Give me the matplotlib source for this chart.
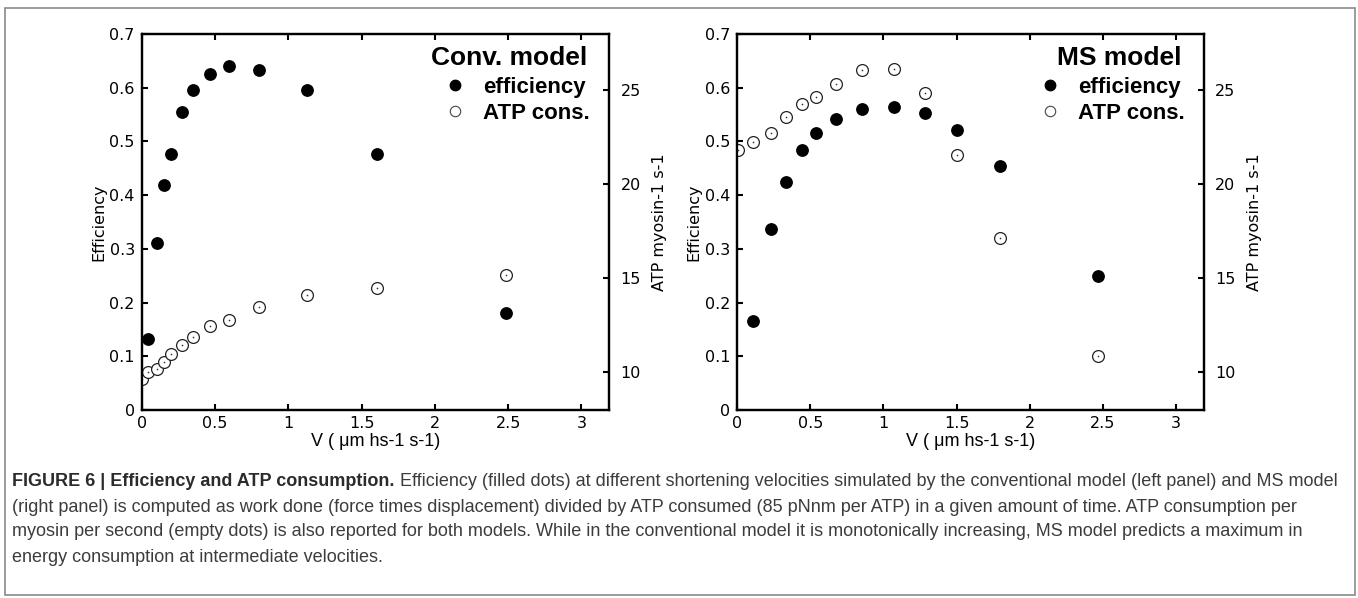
import numpy as np
import matplotlib
matplotlib.use("Agg")
import matplotlib.pyplot as plt
from matplotlib.lines import Line2D

# Shortening velocity (um hs-1 s-1), efficiency and ATP use per myosin per second
conv_velocity = [0.0, 0.045, 0.102, 0.153, 0.202, 0.273, 0.352, 0.466, 0.593, 0.802, 1.125, 1.607, 2.486]
conv_efficiency = [np.nan, 0.133, 0.310, 0.418, 0.476, 0.554, 0.595, 0.626, 0.640, 0.633, 0.595, 0.476, 0.180]
conv_atp = [9.67, 10.00, 10.18, 10.53, 10.98, 11.47, 11.88, 12.46, 12.81, 13.50, 14.14, 14.50, 15.20]

ms_velocity = [0.007, 0.108, 0.234, 0.335, 0.445, 0.543, 0.678, 0.857, 1.071, 1.284, 1.506, 1.798, 2.468]
ms_efficiency = [np.nan, 0.166, 0.337, 0.424, 0.484, 0.515, 0.541, 0.560, 0.565, 0.552, 0.522, 0.454, 0.250]
ms_atp = [21.83, 22.24, 22.73, 23.57, 24.27, 24.66, 25.32, 26.11, 26.15, 24.88, 21.55, 17.14, 10.89]

panel_titles = ["Conv. model", "MS model"]
legend_labels = ["efficiency", "ATP cons."]
x_ticks = [0, 0.5, 1, 1.5, 2, 2.5, 3]
eff_ticks = [0, 0.1, 0.2, 0.3, 0.4, 0.5, 0.6, 0.7]
atp_ticks = [10, 15, 20, 25]

caption_bold = "FIGURE 6 | Efficiency and ATP consumption."
caption_lines = [
    " Efficiency (filled dots) at different shortening velocities simulated by the conventional model (left panel) and MS model",
    "(right panel) is computed as work done (force times displacement) divided by ATP consumed (85 pNnm per ATP) in a given amount of time. ATP consumption per",
    "myosin per second (empty dots) is also reported for both models. While in the conventional model it is monotonically increasing, MS model predicts a maximum in",
    "energy consumption at intermediate velocities.",
]

W, H = 1358, 598
fig = plt.figure(figsize=(W / 100, H / 100), dpi=100)

TICK_FONT = ["DejaVu Sans"]
TEXT_FONT = ["Liberation Sans", "DejaVu Sans"]


def px_rect(x0, x1, y_top, y_bot):
    return [x0 / W, 1 - y_bot / H, (x1 - x0) / W, (y_bot - y_top) / H]


def draw_panel(rect, vel, eff, atp, title):
    ax = fig.add_axes(rect)
    ax2 = ax.twinx()
    ax.set_xlim(0, 3.19)
    ax.set_ylim(0, 0.7)
    ax2.set_ylim(8, 28)

    ax2.plot(vel, atp, linestyle="none", marker="o", markersize=8.5,
             markerfacecolor="white", markeredgecolor="#222222", markeredgewidth=0.9, zorder=3)
    ax2.plot(vel, atp, linestyle="none", marker="o", markersize=1.2,
             markerfacecolor="#333333", markeredgewidth=0, zorder=4)
    ax.plot(vel, eff, linestyle="none", marker="o", markersize=8.2,
            markerfacecolor="black", markeredgecolor="black", zorder=5)
    ax.set_zorder(ax2.get_zorder() + 1)
    ax.patch.set_visible(False)

    ax.set_xticks(x_ticks)
    ax.set_xticklabels([f"{t:g}" for t in x_ticks], fontfamily=TICK_FONT, fontsize=11.5)
    ax.set_yticks(eff_ticks)
    ax.set_yticklabels([f"{t:g}" for t in eff_ticks], fontfamily=TICK_FONT, fontsize=11.5)
    ax2.set_yticks(atp_ticks)
    ax2.set_yticklabels([str(t) for t in atp_ticks], fontfamily=TICK_FONT, fontsize=11.5)

    ax.tick_params(axis="both", direction="in", length=4, width=1.5, pad=5,
                   top=True, bottom=True, left=True, right=False)
    ax.tick_params(axis="x", pad=4)
    ax2.tick_params(axis="y", direction="in", length=4, width=1.5, pad=8)
    for a in (ax, ax2):
        for s in a.spines.values():
            s.set_linewidth(1.6)

    ax.set_ylabel("Efficiency", fontfamily=TICK_FONT, fontsize=11.5, labelpad=2)
    ax2.set_ylabel("ATP myosin-1 s-1", fontfamily=TICK_FONT, fontsize=11.5, labelpad=8)
    ax.set_xlabel("V ( \u03bcm hs-1 s-1)", fontfamily=TEXT_FONT, fontsize=13, labelpad=2)

    ax.text(0.952, 0.9176, title, transform=ax.transAxes, ha="right", va="baseline",
            fontfamily=TEXT_FONT, fontweight="bold", fontsize=19)

    handles = [
        Line2D([], [], linestyle="none", marker="o", markersize=7.5,
               markerfacecolor="black", markeredgecolor="black"),
        Line2D([], [], linestyle="none", marker="o", markersize=7.5,
               markerfacecolor="white", markeredgecolor="#444444", markeredgewidth=0.8),
    ]
    ax.legend(handles, legend_labels, loc="upper right", bbox_to_anchor=(0.958, 0.885),
              frameon=False, borderpad=0, borderaxespad=0, handlelength=1.0,
              handletextpad=0.75, labelspacing=0.2,
              prop={"family": TEXT_FONT, "weight": "bold", "size": 16})
    return ax, ax2


draw_panel(px_rect(141.7, 609.3, 34, 410), conv_velocity, conv_efficiency, conv_atp, panel_titles[0])
draw_panel(px_rect(737, 1204, 34, 410), ms_velocity, ms_efficiency, ms_atp, panel_titles[1])

# Figure frame
frame = plt.Rectangle((5 / W, 1 - 595 / H), (1355 - 5) / W, (595 - 8) / H,
                      transform=fig.transFigure, fill=False, edgecolor="#8a8a8a", linewidth=1.2)
fig.add_artist(frame)

# Caption: bold lead-in followed by regular text on the same line
cap_size = 13
line_y = [482, 507, 532, 557]
renderer = fig.canvas.get_renderer()
t_bold = fig.text(12 / W, 1 - line_y[0] / H, caption_bold, ha="left", va="center",
                  fontfamily=TEXT_FONT, fontweight="bold", fontsize=cap_size, color="#2b2b2b")
bb = t_bold.get_window_extent(renderer=renderer)
fig.text(bb.x1 / W, 1 - line_y[0] / H, caption_lines[0], ha="left", va="center",
         fontfamily=TEXT_FONT, fontsize=cap_size, color="#3c3c3c")
for y, line in zip(line_y[1:], caption_lines[1:]):
    fig.text(12 / W, 1 - y / H, line, ha="left", va="center",
             fontfamily=TEXT_FONT, fontsize=cap_size, color="#3c3c3c")

fig.savefig("out.png", dpi=100)
